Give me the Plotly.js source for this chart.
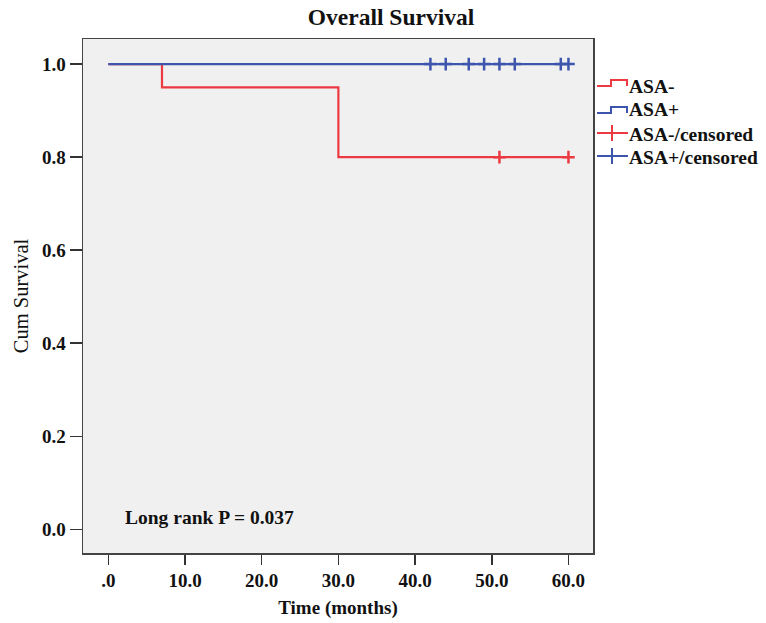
<!DOCTYPE html>
<html>
<head>
<meta charset="utf-8">
<script src="https://cdn.plot.ly/plotly-3.0.1.min.js"></script>
<style>html,body{margin:0;padding:0;background:#fff;}#chart{width:766px;height:623px;}</style>
</head>
<body>
<div id="chart"></div>
<script>
// ---- data ----
var asaNegTimes = [0, 7, 30, 60];
var asaNegSurv = [1.0, 0.95, 0.80, 0.80];
var asaPosTimes = [0, 60];
var asaPosSurv = [1.0, 1.0];
var asaNegCensTimes = [51, 60];
var asaNegCensSurv = [0.80, 0.80];
var asaPosCensTimes = [42, 44, 47, 49, 51, 53, 59, 60];
var asaPosCensSurv = [1, 1, 1, 1, 1, 1, 1, 1];
var xTickVals = [0, 10, 20, 30, 40, 50, 60];
var xTickText = ['.0', '10.0', '20.0', '30.0', '40.0', '50.0', '60.0'];
var yTickVals = [0, 0.2, 0.4, 0.6, 0.8, 1.0];
var legendNames = ['ASA-', 'ASA+', 'ASA-/censored', 'ASA+/censored'];
var pValueText = 'Long rank P = 0.037';

var RED = '#ec3a42';
var BLUE = '#3d55ad';
var FONT = 'Liberation Serif, Times New Roman, serif';

var traces = [
  {x: asaNegTimes, y: asaNegSurv, mode: 'lines', line: {shape: 'hv', color: RED, width: 2.2}, name: legendNames[0]},
  {x: asaPosTimes, y: asaPosSurv, mode: 'lines', line: {shape: 'hv', color: BLUE, width: 2.2}, name: legendNames[1]},
  {x: asaNegCensTimes, y: asaNegCensSurv, mode: 'markers', marker: {symbol: 'cross-thin', size: 9, line: {color: RED, width: 2.5}}, name: legendNames[2]},
  {x: asaPosCensTimes, y: asaPosCensSurv, mode: 'markers', marker: {symbol: 'cross-thin', size: 9, line: {color: BLUE, width: 2.5}}, name: legendNames[3]}
];

// custom legend (pixel -> paper helpers)
var L = 83, R = 593, T = 39, B = 553;
function px(x) { return (x - L) / (R - L); }
function py(y) { return (B - y) / (B - T); }
function stepPath(y0, y1) {
  return 'M' + px(597) + ',' + py(y0) + ' L' + px(611) + ',' + py(y0) + ' L' + px(611) + ',' + py(y1) +
         ' L' + px(627) + ',' + py(y1) + ' L' + px(627) + ',' + py(y0);
}
var shapes = [
  {type: 'path', xref: 'paper', yref: 'paper', path: stepPath(86, 80), line: {color: RED, width: 2}},
  {type: 'path', xref: 'paper', yref: 'paper', path: stepPath(113, 107), line: {color: BLUE, width: 2}},
  {type: 'line', xref: 'paper', yref: 'paper', x0: px(597), x1: px(628), y0: py(133), y1: py(133), line: {color: RED, width: 2}},
  {type: 'line', xref: 'paper', yref: 'paper', x0: px(612), x1: px(612), y0: py(125), y1: py(141), line: {color: RED, width: 2}},
  {type: 'line', xref: 'paper', yref: 'paper', x0: px(597), x1: px(628), y0: py(156), y1: py(156), line: {color: BLUE, width: 2}},
  {type: 'line', xref: 'paper', yref: 'paper', x0: px(612), x1: px(612), y0: py(148), y1: py(164), line: {color: BLUE, width: 2}}
];
var legendY = [86, 110, 134, 157];
var annotations = legendNames.map(function (n, i) {
  return {xref: 'paper', yref: 'paper', x: px(627), y: py(legendY[i]), xanchor: 'left', yanchor: 'middle',
          text: n, showarrow: false, font: {family: FONT, size: 19.5, color: '#111', weight: 'bold'}};
});
annotations.push({xref: 'x', yref: 'y', x: 1.9, y: 0.026, xanchor: 'left', yanchor: 'middle', text: pValueText,
  showarrow: false, font: {family: FONT, size: 19.5, color: '#111', weight: 'bold'}});

var layout = {
  width: 766, height: 623,
  margin: {l: L, r: 766 - R, t: T, b: 623 - B},
  paper_bgcolor: '#ffffff', plot_bgcolor: '#f0f0f0',
  showlegend: false,
  title: {text: 'Overall Survival', x: (391 - L) / (R - L), xref: 'paper', xanchor: 'center', y: 1 - 17 / 623, yanchor: 'middle',
          font: {family: FONT, size: 23.5, color: '#111', weight: 'bold'}},
  xaxis: {
    range: [-3.3, 63.2], tickvals: xTickVals, ticktext: xTickText, ticks: 'outside', ticklen: 10, tickwidth: 1.5, tickcolor: '#333',
    showline: true, mirror: true, linecolor: '#444', linewidth: 1.5, showgrid: false, zeroline: false,
    tickfont: {family: FONT, size: 19, color: '#111', weight: 'bold'},
    title: {text: 'Time (months)', standoff: 10, font: {family: FONT, size: 19, color: '#111', weight: 'bold'}}
  },
  yaxis: {
    range: [-0.051, 1.054], tickvals: yTickVals, tickformat: '.1f', ticks: 'outside', ticklen: 12, tickwidth: 1.5, tickcolor: '#333',
    showline: true, mirror: true, linecolor: '#444', linewidth: 1.5, showgrid: false, zeroline: false,
    tickfont: {family: FONT, size: 19, color: '#111', weight: 'bold'},
    title: {text: 'Cum Survival', standoff: 8, font: {family: FONT, size: 20.5, color: '#111', weight: 'normal'}}
  },
  shapes: shapes,
  annotations: annotations
};

Plotly.newPlot('chart', traces, layout, {displayModeBar: false, staticPlot: true});
</script>
</body>
</html>
